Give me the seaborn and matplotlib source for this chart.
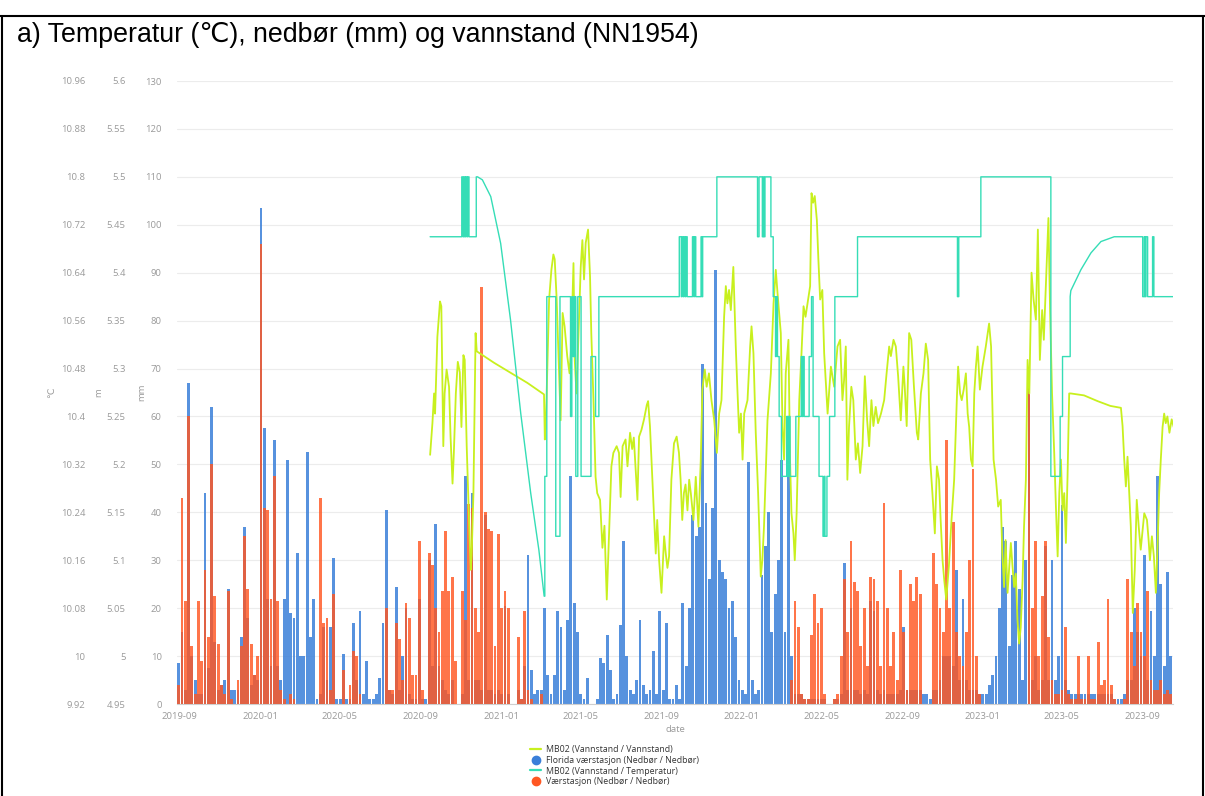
import numpy as np
import pandas as pd
import matplotlib
matplotlib.use("Agg")
import matplotlib.pyplot as plt
import matplotlib.dates as mdates
from matplotlib.lines import Line2D
from matplotlib.ticker import FixedLocator, FuncFormatter
import seaborn as sns

# ---------------------------------------------------------------------------
# Precipitation (mm), 5-day bins starting 2019-08-28
# ---------------------------------------------------------------------------
bin_first = "2019-08-28"

florida_2019_2020 = [
    8.5, 15, 3, 67, 10, 5, 2, 2, 44, 7.6,
    62, 13, 3, 4, 5, 24, 3, 3, 3, 14,
    37, 18, 4, 6, 5, 103.5, 57.5, 22, 8, 55,
    8, 5, 22, 51, 19, 18, 31.5, 10, 10, 52.5,
    14, 22, 1, 2, 16, 5, 16, 30.5, 1, 1,
    10.5, 1, 1, 17, 5, 19.5, 2, 9, 1, 1,
    2, 5.5, 17, 40.5, 3, 2, 24.5, 3, 10, 20,
    2, 1, 1, 22, 1, 1, 30, 8, 37.5, 8,
    5, 3, 2, 5, 0, 0, 2, 47.5, 5, 44,
    5, 5, 3, 39.5, 3, 3, 2, 3, 2, 20.5,
]
florida_2021_2022 = [
    2, 0, 0, 3, 1, 8, 31, 7, 2, 3,
    3, 20, 6, 2, 6, 19.5, 16, 3, 17.5, 47.5,
    21, 15, 2, 1, 5.5, 0, 0, 1, 9.5, 8.5,
    14.5, 7, 1, 2, 16.5, 34, 10, 3, 2, 5,
    17.5, 4, 2, 3, 11, 2, 19.5, 3, 17, 1,
    1, 4, 1, 21, 8, 20, 39.5, 35, 37, 71,
    42, 26, 41, 90.6, 30, 27.5, 26, 20, 21.5, 14,
    5, 3, 2, 50.6, 5, 2, 3, 27, 33, 40,
    15, 23, 30, 51, 15, 50, 10, 2, 2, 2,
    1, 1, 1, 1, 1, 1, 1, 0, 0, 1,
]
florida_2022_2023 = [
    1, 2, 29.5, 3, 20, 3, 3, 2, 3, 2,
    21.5, 19.5, 3, 2, 3, 2, 2, 2, 2, 3,
    16, 3, 3, 3, 3, 3, 2, 2, 1, 3,
    3, 5, 10, 10, 10, 8, 28, 5, 22, 5,
    3, 3, 3, 2, 2, 2, 4, 6, 10, 20,
    37, 34, 12, 27, 34, 24, 5, 30, 66, 5,
    10, 3, 5, 33, 5, 30, 5, 10, 41.5, 5,
    3, 2, 2, 2, 2, 2, 2, 2, 2, 2,
    2, 2, 2, 2, 1, 1, 1, 2, 5, 5,
    20, 15, 10, 31, 5, 19.5, 10, 47.5, 25, 8,
    27.5, 10, 41,
]

vaer_2019_2020 = [
    4, 43, 21.5, 60, 12, 2, 21.5, 9, 28, 14,
    50, 22.5, 12.5, 4, 2, 23.5, 1, 0, 5, 12,
    35, 24, 12.5, 6, 10, 96, 41, 40.5, 22, 47.5,
    21.5, 3, 1, 0, 2, 1, 0, 0, 0, 0,
    0, 0, 0, 43, 17, 18, 3, 23, 0, 0,
    7, 0, 4, 11, 10, 2, 0, 0, 0, 0,
    0, 0, 0, 20, 3, 3, 17, 13.5, 5, 21,
    18, 6, 6, 34, 3, 0, 31.5, 29, 20, 15,
    23.5, 36, 23.5, 26.5, 9, 0, 23.5, 17.5, 41.8, 41,
    20, 15, 87, 40, 36.5, 36, 12, 35.5, 20, 23.5,
]
vaer_2021_2022 = [
    20, 0, 0, 14, 1, 19.5, 3, 1, 0, 0,
    2, 0, 0, 0, 0, 0, 0, 0, 0, 0,
    0, 0, 0, 0, 0, 0, 0, 0, 0, 0,
    0, 0, 0, 0, 0, 0, 0, 0, 0, 0,
    0, 0, 0, 0, 0, 0, 0, 0, 0, 0,
    0, 0, 0, 0, 0, 0, 0, 0, 0, 0,
    0, 0, 0, 0, 0, 0, 0, 0, 0, 0,
    0, 0, 0, 0, 0, 0, 0, 0, 0, 0,
    0, 0, 0, 0, 0, 0, 5, 21.5, 16, 2,
    1, 1, 14.5, 23, 17, 20, 2, 0, 0, 1,
]
vaer_2022_2023 = [
    2, 10, 26, 15, 34, 25.5, 23.5, 12, 20, 8,
    26.5, 26, 21.5, 8, 42, 20, 8, 15, 5, 28,
    15, 3, 25, 21.5, 26.5, 23, 0, 0, 0, 31.5,
    25, 20, 15, 55, 20, 38, 15, 10, 8, 15,
    30, 49, 10, 2, 0, 0, 0, 0, 0, 0,
    0, 0, 0, 0, 0, 0, 0, 0, 68, 20,
    34, 10, 22.5, 34, 14, 5, 2, 2, 3, 16,
    2, 1, 1, 10, 1, 1, 10, 1, 1, 13,
    4, 5, 22, 4, 1, 0, 0, 1, 26, 15,
    8, 21, 15, 10, 23.5, 5, 3, 3, 5, 2,
    3, 2, 1,
]

# ---------------------------------------------------------------------------
# MB02 water level (m) and water temperature (degC), days since 2019-09-01
# ---------------------------------------------------------------------------
day_zero = "2019-09-01"

level_day = [
    380, 383.5, 386, 387.5, 391, 395, 397, 400, 402, 405, 408.7, 411, 414, 416,
    419, 422, 425, 427.5, 430.5, 432.5, 435.5, 439, 441.6, 443, 445.7, 447.7,
    449, 450.7, 477, 527.6, 552.8, 554, 556, 560.5, 564, 567, 569, 572, 575.6,
    578, 581, 584, 588, 591.5, 594, 597.5, 599.4, 602, 604.5, 608.5, 611,
    613.5, 616, 619.6, 622.6, 624.5, 627.8, 631, 633.5, 637.8, 641.4, 644.5,
    648, 651.5, 655, 658, 663, 666.5, 669, 672, 676.5, 679.4, 683.3, 686.5,
    689, 694.5, 697, 700.6, 704.5, 708.7, 710.7, 713.5, 715.8, 718.6, 722.3,
    724.5, 727.4, 731, 735, 737.5, 740, 742.5, 746, 750, 754, 757.5, 760,
    762.5, 765, 767.5, 770.4, 773, 775.5, 779.5, 783, 787, 790.6, 793, 796.7,
    799.5, 803, 806.8, 811, 815, 818.5, 822, 826, 828.6, 831, 833.5, 836.2,
    840, 843.7, 846, 848.8, 851.5, 854, 856.5, 861.5, 865.5, 867.6, 870.5,
    874, 877.6, 881.6, 884, 886.5, 891.8, 896.9, 901, 904.4, 907, 912, 914.6,
    917, 919.5, 923.6, 926, 928.2, 931.2, 933.2, 936, 940, 943.4, 946.5,
    949.5, 952.5, 956.5, 958.6, 961, 963.5, 966.7, 969, 971.7, 975, 977.8,
    983, 988, 993, 998, 1002, 1005.5, 1008, 1010.6, 1013, 1015.5, 1019, 1022,
    1025.8, 1029, 1032.4, 1036, 1039.5, 1043, 1046, 1049.5, 1052.5, 1056,
    1059.5, 1064, 1068.8, 1072.5, 1076.4, 1079, 1083, 1086.5, 1090, 1094,
    1098, 1100, 1103, 1106.7, 1110, 1114, 1118.4, 1120.5, 1124.5, 1128.5,
    1132, 1135.5, 1138.6, 1142, 1145.7, 1148.8, 1152, 1154.5, 1157.4, 1160,
    1163, 1167, 1171, 1175, 1179, 1181, 1184, 1186.5, 1189.5, 1192.8, 1195.5,
    1197.8, 1200.5, 1203, 1205.5, 1208, 1210.6, 1214, 1218, 1223, 1228, 1231,
    1234.8, 1238.5, 1241.8, 1245.7, 1248, 1250.8, 1253, 1256, 1261, 1263.5,
    1266, 1268.5, 1271, 1273.6, 1276, 1278.8, 1281, 1283.8, 1286.4, 1289,
    1292.4, 1295.5, 1299, 1302, 1305, 1308.5, 1311, 1315, 1318, 1320.5,
    1323.5, 1326.8, 1329.5, 1332, 1334.5, 1337, 1339.4, 1342, 1344.5, 1347,
    1349.5, 1352, 1372, 1392.6, 1412, 1428, 1430.5, 1433, 1435.5, 1438,
    1440.6, 1443, 1446, 1449, 1452, 1455, 1458, 1463.4, 1467.5, 1470, 1472,
    1475, 1478, 1481, 1483.7, 1486, 1488.5, 1491.2, 1493.6, 1496, 1498.5,
    1501.6, 1505, 1508,
]
level_m = [
    5.210, 5.243, 5.274, 5.253, 5.333, 5.370, 5.365, 5.219, 5.274, 5.299,
    5.281, 5.229, 5.180, 5.212, 5.274, 5.307, 5.296, 5.239, 5.314, 5.309,
    5.219, 5.142, 5.090, 5.105, 5.170, 5.274, 5.337, 5.318, 5.306, 5.285,
    5.273, 5.226, 5.253, 5.372, 5.403, 5.419, 5.414, 5.372, 5.295, 5.246,
    5.358, 5.344, 5.313, 5.295, 5.323, 5.410, 5.309, 5.274, 5.323, 5.406,
    5.434, 5.393, 5.431, 5.445, 5.396, 5.337, 5.267, 5.187, 5.170, 5.163,
    5.113, 5.136, 5.059, 5.128, 5.198, 5.212, 5.219, 5.212, 5.166, 5.219,
    5.226, 5.198, 5.233, 5.216, 5.228, 5.163, 5.229, 5.236, 5.247, 5.262,
    5.266, 5.240, 5.205, 5.163, 5.107, 5.142, 5.100, 5.066, 5.125, 5.107,
    5.092, 5.104, 5.184, 5.222, 5.229, 5.212, 5.184, 5.142, 5.170, 5.179,
    5.152, 5.184, 5.170, 5.142, 5.187, 5.135, 5.205, 5.278, 5.299, 5.281,
    5.295, 5.267, 5.246, 5.212, 5.253, 5.267, 5.354, 5.386, 5.368, 5.382,
    5.361, 5.406, 5.323, 5.281, 5.233, 5.253, 5.205, 5.253, 5.267, 5.323,
    5.344, 5.316, 5.233, 5.170, 5.083, 5.100, 5.135, 5.246, 5.295, 5.368,
    5.403, 5.379, 5.337, 5.239, 5.205, 5.295, 5.330, 5.205, 5.149, 5.128,
    5.100, 5.149, 5.267, 5.316, 5.365, 5.354, 5.368, 5.386, 5.483, 5.473,
    5.480, 5.455, 5.414, 5.372, 5.382, 5.316, 5.253, 5.302, 5.281, 5.323,
    5.330, 5.267, 5.288, 5.323, 5.184, 5.239, 5.281, 5.267, 5.205, 5.222,
    5.191, 5.219, 5.292, 5.246, 5.219, 5.267, 5.240, 5.260, 5.243, 5.253,
    5.267, 5.295, 5.323, 5.313, 5.330, 5.323, 5.292, 5.246, 5.302, 5.281,
    5.240, 5.337, 5.330, 5.281, 5.233, 5.226, 5.274, 5.295, 5.326, 5.309,
    5.205, 5.170, 5.128, 5.198, 5.184, 5.142, 5.100, 5.079, 5.059, 5.094,
    5.142, 5.184, 5.267, 5.302, 5.274, 5.267, 5.278, 5.295, 5.253, 5.239,
    5.205, 5.198, 5.274, 5.302, 5.323, 5.278, 5.302, 5.323, 5.347, 5.323,
    5.205, 5.184, 5.156, 5.163, 5.108, 5.072, 5.121, 5.066, 5.118, 5.094,
    5.072, 5.086, 5.038, 5.013, 5.030, 5.079, 5.135, 5.184, 5.309, 5.274,
    5.400, 5.372, 5.351, 5.445, 5.309, 5.361, 5.330, 5.403, 5.457, 5.361,
    5.274, 5.212, 5.153, 5.104, 5.170, 5.205, 5.152, 5.170, 5.118, 5.187,
    5.274, 5.274, 5.272, 5.266, 5.261, 5.259, 5.240, 5.205, 5.177, 5.208,
    5.170, 5.135, 5.045, 5.090, 5.163, 5.135, 5.111, 5.149, 5.142, 5.121,
    5.100, 5.125, 5.104, 5.066, 5.118, 5.170, 5.205, 5.239, 5.253, 5.243,
    5.250, 5.233, 5.247, 5.239,
]

temp_day = [
    380, 428, 428, 430, 430, 431.5, 431.5, 433, 433, 434, 434, 436, 436, 437,
    437, 439, 439, 450, 450, 452, 459.3, 472, 487, 502, 517.5, 532.6, 545,
    553, 554, 554, 557, 557, 570.6, 570.6, 577, 577, 593, 593, 595, 595, 597,
    597, 599, 599, 601, 601, 604, 604, 609, 609, 624, 624, 631, 631, 636, 636,
    758, 758, 761, 761, 762, 762, 764, 764, 765, 765, 767, 767, 768, 768, 770,
    770, 778, 778, 780, 780, 781, 781, 783, 783, 791, 791, 792.5, 792.5,
    793.5, 793.5, 815, 815, 876.7, 876.7, 879, 879, 884, 884, 885.5, 885.5,
    886.5, 886.5, 888, 888, 897, 897, 900.5, 900.5, 904, 904, 905, 905, 907,
    907, 909.5, 909.5, 913, 913, 921, 921, 922, 922, 923, 923, 924, 924, 925,
    925, 926, 926, 934.8, 934.8, 943, 943, 944.5, 944.5, 946, 946, 947.5,
    947.5, 955, 955, 958.6, 958.6, 961, 961, 970, 970, 976, 976, 978, 978,
    979, 979, 982, 982, 986, 986, 994, 994, 1028.4, 1028.4, 1180, 1180, 1182,
    1182, 1215.5, 1215.5, 1321.7, 1321.7, 1335.8, 1335.8, 1339.4, 1339.4,
    1351, 1351, 1352, 1367.3, 1382.5, 1397.7, 1417.8, 1461, 1461, 1463.4,
    1463.4, 1464.5, 1464.5, 1466, 1466, 1468.5, 1468.5, 1476, 1476, 1478,
    1478, 1508,
]
temp_c = [
    10.7, 10.7, 10.8, 10.8, 10.7, 10.7, 10.8, 10.8, 10.7, 10.7, 10.8, 10.8,
    10.7, 10.7, 10.8, 10.8, 10.7, 10.7, 10.8, 10.8, 10.795, 10.767, 10.689,
    10.561, 10.405, 10.272, 10.177, 10.1, 10.1, 10.3, 10.3, 10.6, 10.6, 10.2,
    10.2, 10.6, 10.6, 10.4, 10.4, 10.6, 10.6, 10.5, 10.5, 10.6, 10.6, 10.3,
    10.3, 10.6, 10.6, 10.3, 10.3, 10.5, 10.5, 10.4, 10.4, 10.6,
    10.6, 10.7, 10.7, 10.6, 10.6, 10.7, 10.7, 10.6, 10.6, 10.7, 10.7, 10.6,
    10.6, 10.7, 10.7, 10.6, 10.6, 10.7, 10.7, 10.6, 10.6, 10.7, 10.7, 10.6,
    10.6, 10.7, 10.7, 10.6, 10.6, 10.7, 10.7, 10.8, 10.8, 10.7, 10.7, 10.8,
    10.8, 10.7, 10.7, 10.8, 10.8, 10.7, 10.7, 10.8, 10.8, 10.7, 10.7, 10.6,
    10.6, 10.5, 10.5, 10.6, 10.6, 10.5, 10.5, 10.4, 10.4, 10.3, 10.3, 10.4,
    10.4, 10.3, 10.3, 10.4, 10.4, 10.3, 10.3, 10.4, 10.4, 10.3, 10.3, 10.4,
    10.4, 10.5, 10.5, 10.4, 10.4, 10.5, 10.5, 10.4, 10.4, 10.5, 10.5, 10.6,
    10.6, 10.4, 10.4, 10.3, 10.3, 10.2, 10.2, 10.3, 10.3, 10.2, 10.2, 10.3,
    10.3, 10.4, 10.4, 10.6, 10.6, 10.7, 10.7, 10.6, 10.6, 10.7, 10.7, 10.8,
    10.8, 10.3, 10.3, 10.4, 10.4, 10.5, 10.5, 10.6, 10.61, 10.645, 10.673,
    10.692, 10.70, 10.70, 10.6, 10.6, 10.7, 10.7, 10.6, 10.6, 10.7, 10.7,
    10.6, 10.6, 10.7, 10.7, 10.6, 10.6,
]

mm_ticks = list(range(0, 131, 10))
m_ticks = [4.95, 5.0, 5.05, 5.1, 5.15, 5.2, 5.25, 5.3, 5.35, 5.4, 5.45, 5.5, 5.55, 5.6]
c_ticks = [9.92, 10.0, 10.08, 10.16, 10.24, 10.32, 10.4, 10.48, 10.56, 10.64,
           10.72, 10.8, 10.88, 10.96]

legend_labels = [
    "MB02 (Vannstand / Vannstand)",
    "Florida værstasjon (Nedbør / Nedbør)",
    "MB02 (Vannstand / Temperatur)",
    "Værstasjon (Nedbør / Nedbør)",
]
title_text = "a) Temperatur (℃), nedbør (mm) og vannstand (NN1954)"

# ---------------------------------------------------------------------------
YELLOW = "#c8f01e"
TEAL = "#35ddb6"
BLUE = "#3a7fd9"
ORANGE = "#ff5722"
GREY = "#9a9a9a"

sns.set_theme(style="white")
plt.rcParams["font.family"] = ["Open Sans", "DejaVu Sans"]

W_PX, H_PX = 1205, 796
fig = plt.figure(figsize=(W_PX / 100, H_PX / 100), dpi=100)
fig.patch.set_facecolor("white")

left, right, top, bottom = 177, 1173, 81, 704
ax = fig.add_axes([left / W_PX, 1 - bottom / H_PX,
                   (right - left) / W_PX, (bottom - top) / H_PX])

florida = np.array(florida_2019_2020 + florida_2021_2022 + florida_2022_2023)
vaer = np.array(vaer_2019_2020 + vaer_2021_2022 + vaer_2022_2023)
bins = pd.date_range(bin_first, periods=len(florida), freq="5D")
centers = mdates.date2num(bins) + 2.5

# bars slightly narrower than the bin keep the spiky look of the series
ax.bar(centers, florida, width=4.3, color=BLUE, alpha=0.85, linewidth=0, zorder=2)
ax.bar(centers, vaer, width=4.3, color=ORANGE, alpha=0.82, linewidth=0, zorder=3)

t0 = pd.Timestamp(day_zero)
level_df = pd.DataFrame({
    "date": mdates.date2num(t0 + pd.to_timedelta(level_day, unit="D")),
    "m": level_m,
})
temp_df = pd.DataFrame({
    "date": mdates.date2num(t0 + pd.to_timedelta(temp_day, unit="D")),
    "c": temp_c,
})

ax_m = ax.twinx()
ax_t = ax.twinx()
sns.lineplot(data=level_df, x="date", y="m", ax=ax_m, color=YELLOW,
             linewidth=1.3, estimator=None, sort=False)
sns.lineplot(data=temp_df, x="date", y="c", ax=ax_t, color=TEAL,
             linewidth=1.0, estimator=None, sort=False)

x0 = mdates.date2num(pd.Timestamp("2019-08-28"))
x1 = mdates.date2num(pd.Timestamp("2023-10-17"))
ax.set_xlim(x0, x1)

# main (mm) axis
ax.set_ylim(0, 130)
ax.yaxis.set_major_locator(FixedLocator(mm_ticks))
ax.yaxis.grid(True, color="#ececec", linewidth=0.8)
ax.xaxis.grid(False)
ax.set_axisbelow(True)
for side in ("top", "right", "left"):
    ax.spines[side].set_visible(False)
ax.spines["bottom"].set_color("#cfcfcf")
ax.spines["bottom"].set_linewidth(0.8)

ax.xaxis.set_major_locator(mdates.MonthLocator(bymonth=[1, 5, 9]))
ax.xaxis.set_major_formatter(mdates.DateFormatter("%Y-%m"))
ax.tick_params(axis="x", length=4, width=0.8, color="#d5d5d5", labelsize=6.8,
               labelcolor=GREY, pad=2)
ax.tick_params(axis="y", length=0, labelsize=6.8, labelcolor=GREY, pad=11)
ax.set_xlabel("date", fontsize=6.8, color=GREY, labelpad=3)
ax.set_ylabel("mm", fontsize=6.8, color=GREY)
ax.yaxis.set_label_coords((146 - left) / (right - left), 0.5)


def trim(v, pos=None):
    return f"{v:.2f}".rstrip("0").rstrip(".")


for a, lo, hi, ticks, pad, lab, lx in (
        (ax_m, 4.95, 5.6, m_ticks, 37, "m", 103),
        (ax_t, 9.92, 10.96, c_ticks, 66, "℃", 56)):
    a.set_ylim(lo, hi)
    a.yaxis.tick_left()
    a.yaxis.set_label_position("left")
    a.yaxis.set_major_locator(FixedLocator(ticks))
    a.yaxis.set_major_formatter(FuncFormatter(trim))
    a.tick_params(axis="y", length=0, labelsize=6.8, labelcolor=GREY, pad=pad)
    a.grid(False)
    for s in a.spines.values():
        s.set_visible(False)
    a.set_ylabel(lab, fontsize=6.8, color=GREY)
    a.yaxis.set_label_coords((lx - left) / (right - left), 0.5)
    a.set_xlabel("")

ax.set_xlim(x0, x1)

# frame around the panel
for xs, ys in (([0, 1], [1 - 16 / H_PX] * 2),
               ([2 / W_PX] * 2, [0, 1 - 16 / H_PX]),
               ([1 - 2 / W_PX] * 2, [0, 1 - 16 / H_PX])):
    fig.add_artist(Line2D(xs, ys, color="black", linewidth=1.5,
                          transform=fig.transFigure))

fig.text(17 / W_PX, 1 - 35 / H_PX, title_text, fontsize=19.3, va="center",
         ha="left", family=["Liberation Sans", "DejaVu Sans"], color="black")

handles = [
    Line2D([], [], color=YELLOW, linewidth=1.6),
    Line2D([], [], linestyle="", marker="o", color=BLUE, markersize=6),
    Line2D([], [], color=TEAL, linewidth=1.6),
    Line2D([], [], linestyle="", marker="o", color=ORANGE, markersize=6),
]
leg = fig.legend(handles, legend_labels, loc="upper left",
                 bbox_to_anchor=(530 / W_PX, 1 - 745 / H_PX), frameon=False,
                 fontsize=6.3, handlelength=1.3, handletextpad=0.5,
                 labelspacing=0.2, borderpad=0, borderaxespad=0)
for t in leg.get_texts():
    t.set_color("#333333")

fig.savefig("out.png", dpi=100, facecolor="white")
